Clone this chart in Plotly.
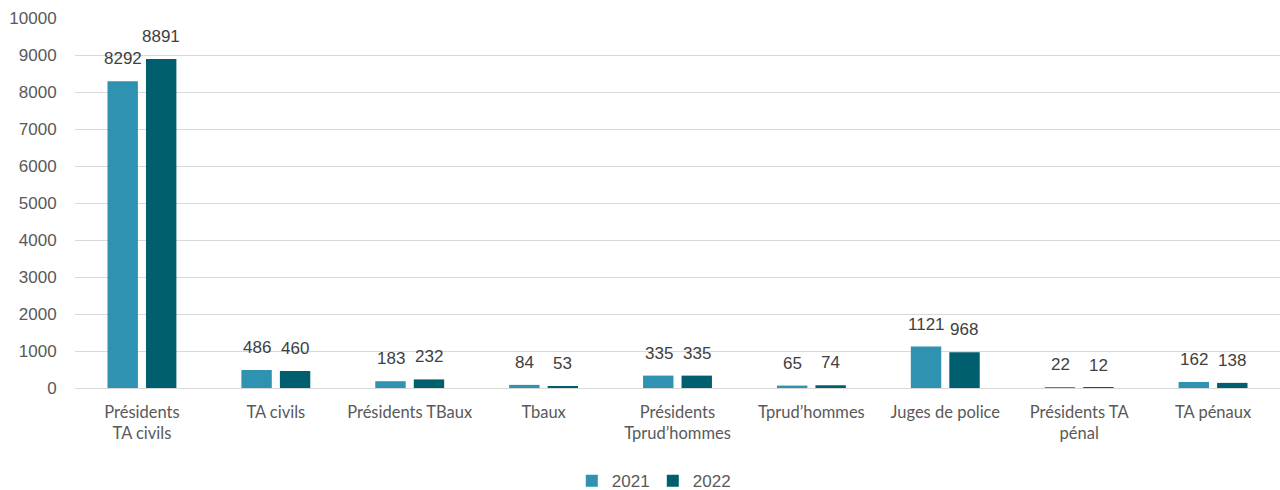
import plotly.graph_objects as go

categories = [
    "Présidents<br>TA civils",
    "TA civils",
    "Présidents TBaux",
    "Tbaux",
    "Présidents<br>Tprud’hommes",
    "Tprud’hommes",
    "Juges de police",
    "Présidents TA<br>pénal",
    "TA pénaux",
]
values_2021 = [8292, 486, 183, 84, 335, 65, 1121, 22, 162]
values_2022 = [8891, 460, 232, 53, 335, 74, 968, 12, 138]
y_ticks = list(range(0, 10001, 1000))
y_tick_labels = [str(v) for v in y_ticks]

color_2021 = "#2E92B0"
color_2022 = "#005F6E"
label_font = dict(family="Liberation Sans", size=17, color="#404040")
axis_font = dict(family="Liberation Sans", size=17, color="#595959")

fig = go.Figure()
fig.add_trace(go.Bar(name="2021", x=categories, y=values_2021, marker_color=color_2021,
                     marker_line_width=0))
fig.add_trace(go.Bar(name="2022", x=categories, y=values_2022, marker_color=color_2022,
                     marker_line_width=0))

# value labels above each bar
annotations = []
for vals, shift in ((values_2021, -19), (values_2022, 19)):
    for cat, v in zip(categories, vals):
        annotations.append(dict(
            x=cat, y=v, xref="x", yref="y", text=str(v), showarrow=False,
            xshift=shift, yshift=11, yanchor="bottom", font=label_font,
        ))

fig.update_layout(
    width=1280, height=490,
    margin=dict(l=75, r=0, t=18, b=102, autoexpand=False),
    paper_bgcolor="white", plot_bgcolor="white",
    barmode="group", bargap=0.425, bargroupgap=0.21,
    annotations=annotations,
    showlegend=True,
    legend=dict(orientation="h", xref="container", x=0.51, xanchor="center",
                yref="container", y=0.018, yanchor="middle", font=axis_font,
                itemwidth=30, entrywidth=36, traceorder="normal"),
    xaxis=dict(
        showgrid=False, showline=True, linecolor="#d9d9d9", linewidth=1,
        tickfont=dict(family="Lato", size=16.5, color="#595959"),
        ticks="outside", ticklen=9, tickcolor="rgba(0,0,0,0)",
    ),
    yaxis=dict(
        range=[0, 10000], tickvals=y_ticks, ticktext=y_tick_labels,
        showgrid=True, gridcolor="#d9d9d9",
        gridwidth=1, zeroline=True, zerolinecolor="#d9d9d9", zerolinewidth=1,
        tickfont=axis_font, ticks="outside", ticklen=14,
        tickcolor="rgba(0,0,0,0)",
    ),
)

fig.write_html("out.html")
